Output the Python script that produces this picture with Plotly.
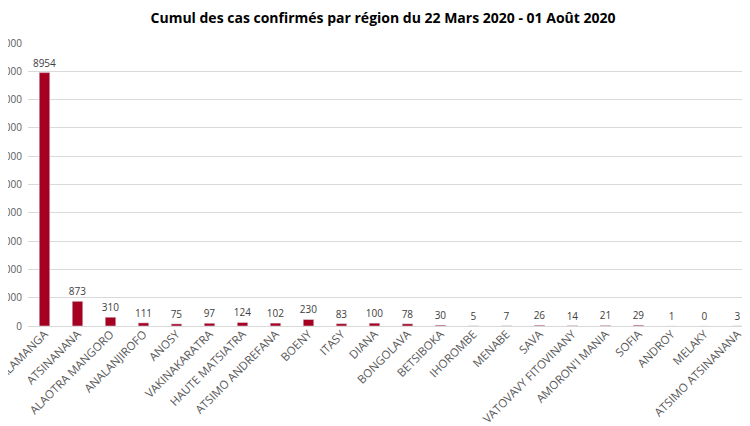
import plotly.graph_objects as go

# cumul des cas confirmés par région
regions = [
    "ANALAMANGA", "ATSINANANA", "ALAOTRA MANGORO", "ANALANJIROFO", "ANOSY",
    "VAKINAKARATRA", "HAUTE MATSIATRA", "ATSIMO ANDREFANA", "BOENY", "ITASY",
    "DIANA", "BONGOLAVA", "BETSIBOKA", "IHOROMBE", "MENABE", "SAVA",
    "VATOVAVY FITOVINANY", "AMORON'I MANIA", "SOFIA", "ANDROY", "MELAKY",
    "ATSIMO ATSINANANA",
]
cas = [8954, 873, 310, 111, 75, 97, 124, 102, 230, 83, 100, 78,
       30, 5, 7, 26, 14, 21, 29, 1, 0, 3]
y_ticks = [0, 1000, 2000, 3000, 4000, 5000, 6000, 7000, 8000, 9000, 10000]

fig = go.Figure()
fig.add_trace(
    go.Bar(
        x=regions, y=cas, marker_color="#A50021", width=0.32,
        text=cas, textposition="outside", cliponaxis=False,
        constraintext="none",
        textfont={"family": "Open Sans", "size": 10, "color": "#404040"},
    )
)

# la page a une marge de 8 px : on décale les marges en conséquence
fig.update_layout(
    {
        "title": {
            "text": "<b>Cumul des cas confirmés par région du 22 Mars 2020 - 01 Août 2020</b>",
            "x": 0.5,
            "xanchor": "center",
            "y": 0.976,
            "yanchor": "middle",
            "font": {"family": "Open Sans", "size": 14, "color": "#000000"},
        },
        "showlegend": False,
        "width": 750,
        "height": 426,
        "autosize": False,
        "margin": {"l": 20, "r": 4, "t": 35, "b": 108, "autoexpand": False},
        "plot_bgcolor": "white",
        "paper_bgcolor": "white",
        "xaxis": {
            "tickangle": -45,
            "tickfont": {"family": "Open Sans", "size": 11.5, "color": "#595959"},
            "showline": True,
            "linecolor": "#D9D9D9",
            "showgrid": False,
            "automargin": False,
            "ticklabelstandoff": -4,
        },
        "yaxis": {
            "range": [0, 10000],
            "tickvals": y_ticks,
            "tickformat": "d",
            "tickfont": {"family": "Open Sans", "size": 10, "color": "#595959"},
            "gridcolor": "#D9D9D9",
            "zeroline": False,
            "automargin": False,
            "ticklabelstandoff": 5,
        },
    }
)

fig.write_html("out.html")
